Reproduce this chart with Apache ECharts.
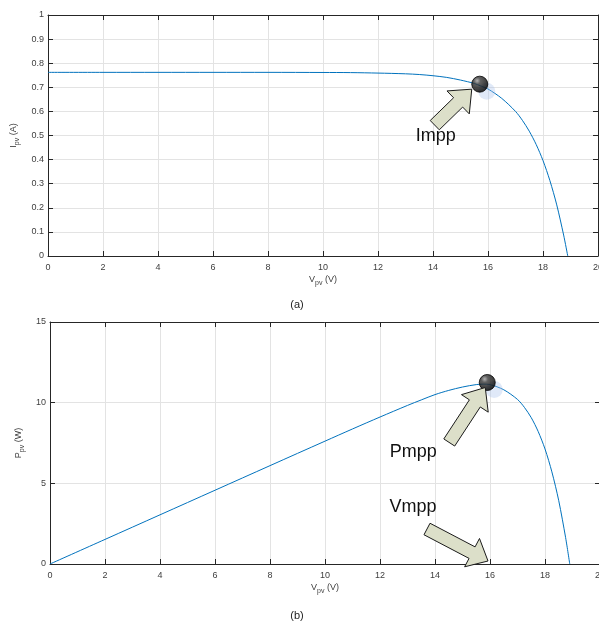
<!DOCTYPE html>
<html>
<head>
  <meta charset="utf-8">
  <script src="https://cdn.jsdelivr.net/npm/echarts@6/dist/echarts.min.js"></script>
</head>
<body style="margin:0;background:#fff;">
  <div id="id_chart" style="width:599px;height:625px;"></div>

  <script type="text/javascript">
    // PV module curves
    var vpv = [0, 2, 4, 6, 8, 10, 11, 12, 13, 13.5, 14, 14.5, 15, 15.5, 15.75, 16, 16.5, 17, 17.25, 17.5, 17.75, 18, 18.25, 18.5, 18.75, 18.9];
    var ipv = [0.762, 0.762, 0.762, 0.762, 0.762, 0.7615, 0.761, 0.759, 0.756, 0.753, 0.748, 0.741, 0.730, 0.716, 0.705, 0.693, 0.654, 0.600, 0.563, 0.518, 0.463, 0.396, 0.313, 0.212, 0.087, 0];
    var ppv = [0, 1.524, 3.048, 4.572, 6.096, 7.615, 8.37, 9.11, 9.83, 10.17, 10.50, 10.76, 10.97, 11.12, 11.15, 11.12, 10.80, 10.20, 9.71, 9.07, 8.22, 7.13, 5.71, 3.92, 1.63, 0];
    var impp = [15.7, 0.713];
    var pmpp = [15.9, 11.25];
    var vmpp = [16, 0];
    var xTicks = [0, 20, 2];
    var iTicks = [0, 1, 0.1];
    var pTicks = [0, 15, 5];

    var txt = '#404040';
    var axCol = '#262626';
    var arrowFill = '#dcdfc9';

    function pairs(xs, ys) {
      var out = [];
      for (var i = 0; i < xs.length; i++) out.push([xs[i], ys[i]]);
      return out;
    }

    var nameRich = {
      n: { fontSize: 9, color: txt, fontFamily: 'Liberation Sans, Arial' },
      s: { fontSize: 7, color: txt, fontFamily: 'Liberation Sans, Arial', padding: [7, 0, 0, 0] }
    };

    function xAxes(grid, name) {
      var base = {
        gridIndex: grid, type: 'value', min: xTicks[0], max: xTicks[1], interval: xTicks[2],
        axisLine: { show: true, onZero: false, lineStyle: { color: axCol, width: 1 } },
        axisTick: { show: true, inside: true, length: 5, lineStyle: { color: axCol } }
      };
      var bottom = Object.assign({}, base, {
        position: 'bottom',
        splitLine: { show: true, lineStyle: { color: '#e3e3e3', width: 1 } },
        axisLabel: { fontSize: 9, color: txt, margin: 7, fontFamily: 'Liberation Sans, Arial' },
        name: name, nameLocation: 'middle', nameGap: 17,
        nameTextStyle: { rich: nameRich }
      });
      var top = Object.assign({}, base, {
        position: 'top', splitLine: { show: false }, axisLabel: { show: false }
      });
      return [bottom, top];
    }

    function yAxes(grid, ticks, name, fmt) {
      var base = {
        gridIndex: grid, type: 'value', min: ticks[0], max: ticks[1], interval: ticks[2],
        axisLine: { show: true, onZero: false, lineStyle: { color: axCol, width: 1 } },
        axisTick: { show: true, inside: true, length: 5, lineStyle: { color: axCol } }
      };
      var left = Object.assign({}, base, {
        position: 'left',
        splitLine: { show: true, lineStyle: { color: '#e3e3e3', width: 1 } },
        axisLabel: { fontSize: 9, color: txt, margin: 4, formatter: fmt, fontFamily: 'Liberation Sans, Arial' },
        name: name, nameLocation: 'middle', nameGap: 18, nameRotate: 90,
        nameTextStyle: { rich: nameRich }
      });
      var right = Object.assign({}, base, {
        position: 'right', splitLine: { show: false }, axisLabel: { show: false }
      });
      return [left, right];
    }

    var ball = {
      type: 'radial', x: 0.35, y: 0.3, r: 0.65,
      colorStops: [{ offset: 0, color: '#a0a0a0' }, { offset: 0.3, color: '#383838' }, { offset: 1, color: '#000' }]
    };

    function mppSeries(xi, yi, pt) {
      return [{
        type: 'scatter', xAxisIndex: xi, yAxisIndex: yi, data: [pt], symbolSize: 17,
        symbolOffset: [7, 7], silent: true,
        itemStyle: { color: 'rgba(170,195,235,0.45)' }, z: 3
      }, {
        type: 'scatter', xAxisIndex: xi, yAxisIndex: yi, data: [pt], symbolSize: 16, silent: true,
        itemStyle: { color: ball, borderColor: '#000', borderWidth: 1 }, z: 4
      }];
    }

    var myChart = echarts.init(document.getElementById('id_chart'));
    var option = {
      animation: false,
      grid: [
        { left: 48, top: 15, width: 550, height: 241, outerBoundsMode: 'none', containLabel: false },
        { left: 50, top: 322, width: 550, height: 242, outerBoundsMode: 'none', containLabel: false }
      ],
      xAxis: xAxes(0, '{n|V}{s|pv}{n| (V)}').concat(xAxes(1, '{n|V}{s|pv}{n| (V)}')),
      yAxis: yAxes(0, iTicks, '{n|I}{s|pv}{n| (A)}', function (v) { return String(+v.toFixed(1)); })
        .concat(yAxes(1, pTicks, '{n|P}{s|pv}{n| (W)}')),
      series: [{
        type: 'line', xAxisIndex: 0, yAxisIndex: 0, data: pairs(vpv, ipv),
        showSymbol: false, smooth: 0.3, lineStyle: { color: '#0072BD', width: 1 }, z: 2
      }, {
        type: 'line', xAxisIndex: 2, yAxisIndex: 2, data: pairs(vpv, ppv),
        showSymbol: false, smooth: 0.3, lineStyle: { color: '#0072BD', width: 1 }, z: 2
      }].concat(mppSeries(0, 0, impp), mppSeries(2, 2, pmpp))
    };
    myChart.setOption(option);

    // block arrow from tail to tip, offsets in px relative to an anchor
    function arrow(anchor, tail, tip, headLen, headW, shaftW) {
      var x0 = anchor[0] + tail[0], y0 = anchor[1] + tail[1];
      var x1 = anchor[0] + tip[0], y1 = anchor[1] + tip[1];
      var dx = x1 - x0, dy = y1 - y0, L = Math.sqrt(dx * dx + dy * dy);
      var ux = dx / L, uy = dy / L, nx = -uy, ny = ux;
      var bx = x1 - ux * headLen, by = y1 - uy * headLen;
      var pts = [
        [x0 + nx * shaftW / 2, y0 + ny * shaftW / 2],
        [bx + nx * shaftW / 2, by + ny * shaftW / 2],
        [bx + nx * headW / 2, by + ny * headW / 2],
        [x1, y1],
        [bx - nx * headW / 2, by - ny * headW / 2],
        [bx - nx * shaftW / 2, by - ny * shaftW / 2],
        [x0 - nx * shaftW / 2, y0 - ny * shaftW / 2]
      ];
      return {
        type: 'polygon', z: 10, shape: { points: pts },
        style: { fill: arrowFill, stroke: '#1a1a1a', lineWidth: 1 }
      };
    }

    function label(anchor, off, text) {
      return {
        type: 'text', z: 10, x: anchor[0] + off[0], y: anchor[1] + off[1],
        style: { text: text, fontSize: 18, fill: '#111', align: 'center', verticalAlign: 'middle', fontFamily: 'Liberation Sans, Arial' }
      };
    }

    var pI = myChart.convertToPixel({ xAxisIndex: 0, yAxisIndex: 0 }, impp);
    var pP = myChart.convertToPixel({ xAxisIndex: 2, yAxisIndex: 2 }, pmpp);
    var pV = myChart.convertToPixel({ xAxisIndex: 2, yAxisIndex: 2 }, vmpp);

    myChart.setOption({
      graphic: [
        arrow(pI, [-45, 41], [-8, 5], 19, 32, 13),
        label(pI, [-44, 52], 'Impp'),
        arrow(pP, [-38, 60], [-2, 5], 19, 32, 13),
        label(pP, [-74, 70], 'Pmpp'),
        arrow(pV, [-63, -35], [-2, -3], 18, 32, 13),
        label(pV, [-77, -57], 'Vmpp'),
        { type: 'text', x: 297, y: 305, style: { text: '(a)', fontSize: 11, fill: '#222', align: 'center', verticalAlign: 'middle', fontFamily: 'Liberation Sans, Arial' } },
        { type: 'text', x: 297, y: 616, style: { text: '(b)', fontSize: 11, fill: '#222', align: 'center', verticalAlign: 'middle', fontFamily: 'Liberation Sans, Arial' } }
      ]
    });
  </script>
</body>
</html>
